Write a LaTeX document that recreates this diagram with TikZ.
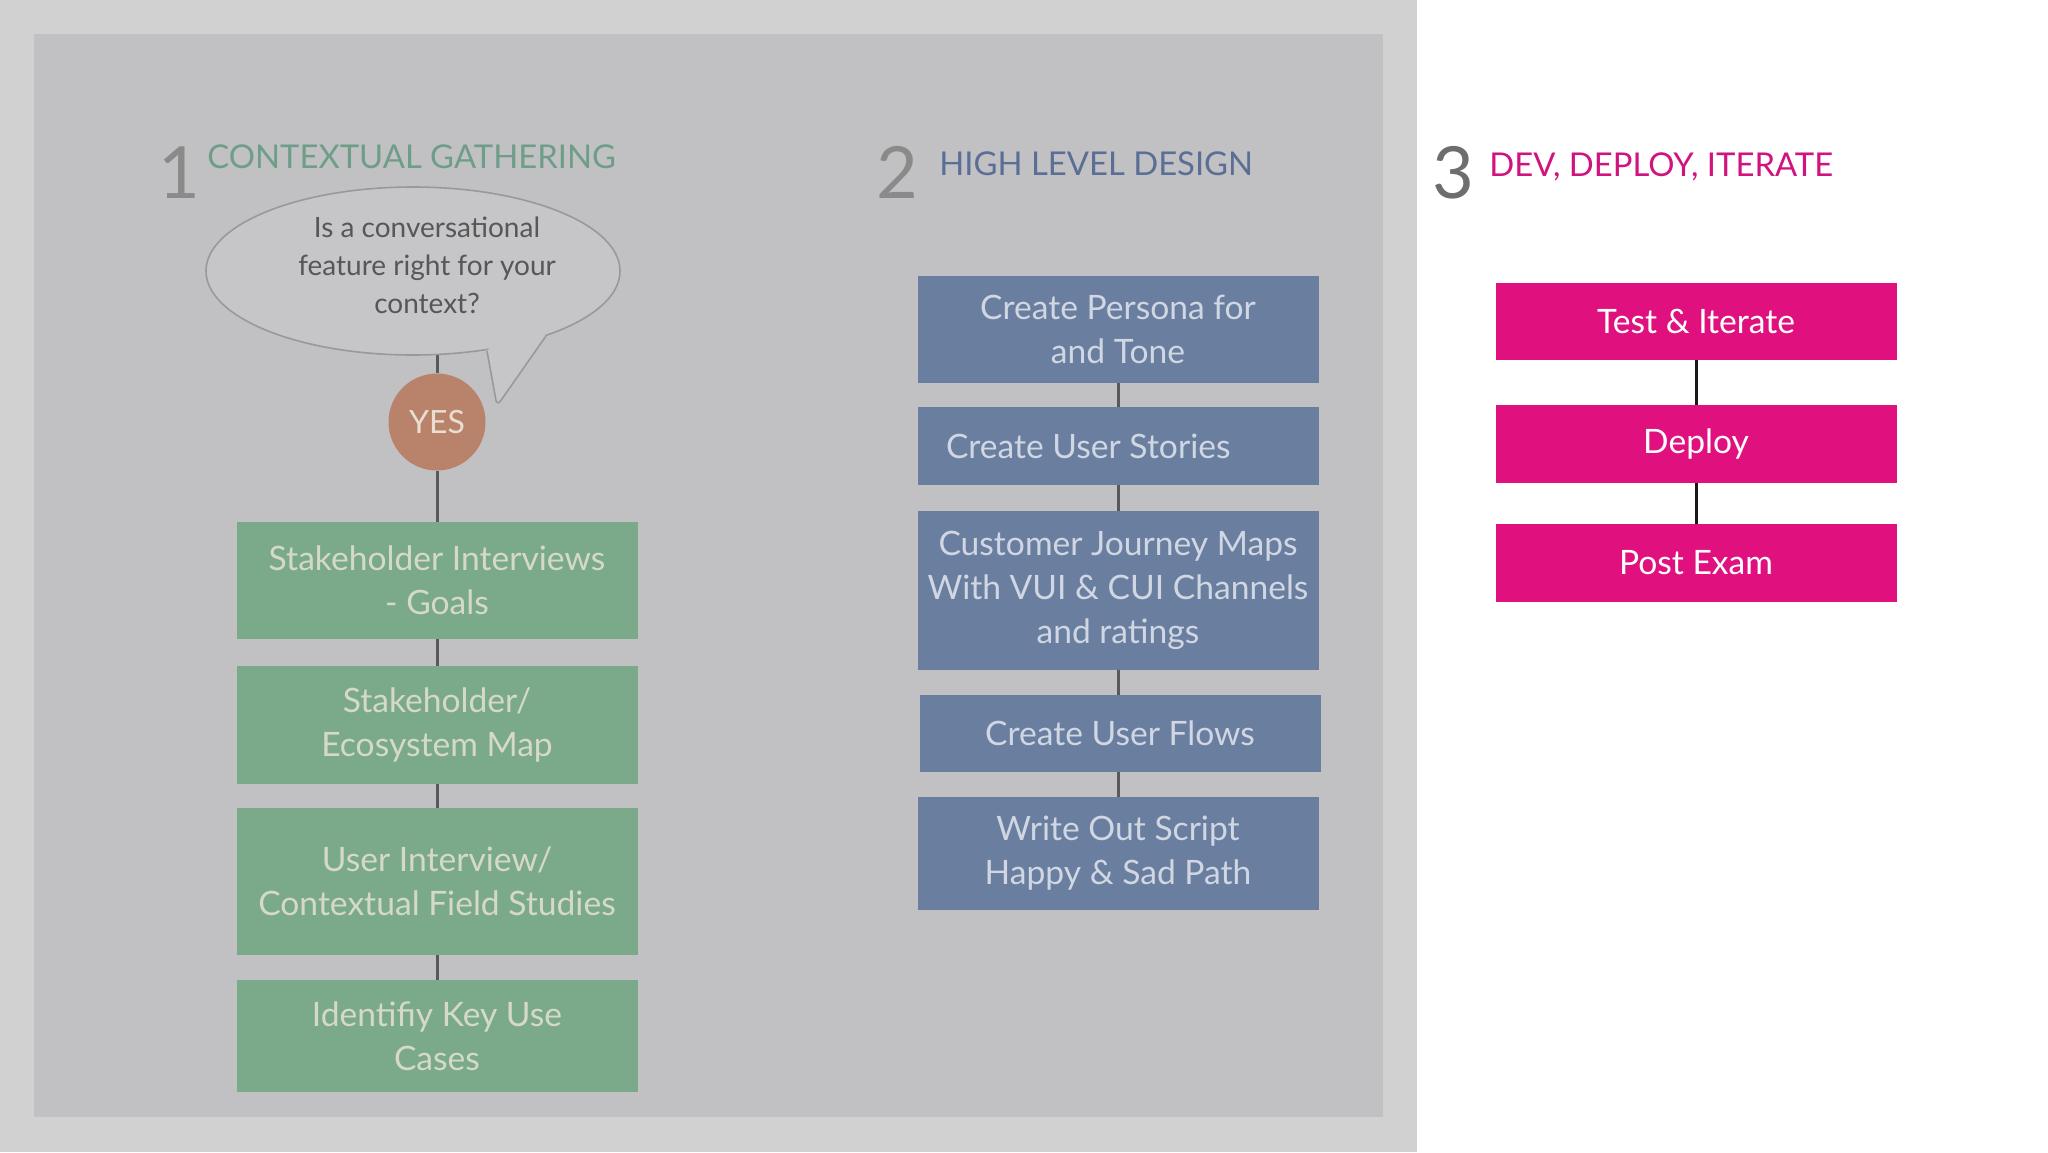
\documentclass[tikz,border=0pt]{standalone}
\usepackage{fontspec}
\setmainfont{Lato}
\usetikzlibrary{shapes.geometric}
\definecolor{outergray}{HTML}{D1D1D1}
\definecolor{panelgray}{HTML}{C1C1C3}
\definecolor{greenfill}{HTML}{7AAA8A}
\definecolor{greentext}{HTML}{D6D9CA}
\definecolor{bluefill}{HTML}{6A7EA0}
\definecolor{bluetext}{HTML}{D0D7E2}
\definecolor{pinkfill}{HTML}{E0107F}
\definecolor{bubblefill}{HTML}{C6C6C8}
\definecolor{bubbleline}{HTML}{999999}
\definecolor{bubbletext}{HTML}{575757}
\definecolor{yesfill}{HTML}{B9826A}
\definecolor{yestext}{HTML}{E8DED2}
\definecolor{conngray}{HTML}{595959}
\definecolor{numgray}{HTML}{8A8A8A}
\definecolor{numdark}{HTML}{6E6E6E}
\definecolor{titlegreen}{HTML}{6E9E88}
\definecolor{titleblue}{HTML}{5B6E96}
\definecolor{titlepink}{HTML}{D0137F}
\begin{document}
\begin{tikzpicture}[x=0.5pt,y=-0.5pt,
  box/.style={rectangle, inner sep=0pt, minimum width=200.5pt, align=center,
    font=\fontsize{16.8}{22}\selectfont},
  greenbox/.style={box, fill=greenfill, text=greentext},
  bluebox/.style={box, fill=bluefill, text=bluetext},
  pinkbox/.style={box, fill=pinkfill, text=white, font=\fontsize{16.8}{22}\selectfont},
  conn/.style={draw=conngray, line width=1.5pt},
  connblack/.style={draw=black!90, line width=1.5pt},
  bignum/.style={anchor=base west, inner sep=0pt, font=\fontsize{36}{36}\selectfont},
  headtitle/.style={anchor=base west, inner sep=0pt, font=\fontsize{16.4}{18}\selectfont}
]
\useasboundingbox (0,0) rectangle (2048,1152);
\fill[outergray] (0,0) rectangle (1417,1152);
\fill[white] (1417,0) rectangle (2048,1152);
\fill[panelgray] (34,34) rectangle (1383,1117);

% titles
\node[bignum, text=numgray] (n1) at (158,198) {1};
\node[headtitle, text=titlegreen] (t1) at (207,168) {CONTEXTUAL GATHERING};
\node[bignum, text=numgray] (n2) at (876,198) {2};
\node[headtitle, text=titleblue] (t2) at (939,175) {HIGH LEVEL DESIGN};
\node[bignum, text=numdark] (n3) at (1432,198) {3};
\node[headtitle, text=titlepink] (t3) at (1489,176) {DEV, DEPLOY, ITERATE};

% column 1
\node[circle, fill=yesfill, text=yestext, minimum size=48.5pt, inner sep=0pt,
  font=\fontsize{16}{18}\selectfont] (yes) at (437,422) {YES};
\coordinate (bubc) at (413,271);
\draw[conn] (yes.north) -- (yes.north |- bubc);
\node[ellipse, fill=bubblefill, draw=bubbleline, line width=0.8pt,
  minimum width=207pt, minimum height=84pt, inner sep=0pt] (bubble) at (bubc) {};
\coordinate (tailA) at (487,351);
\coordinate (tailTip) at (497,406);
\coordinate (tailB) at (546,336);
\fill[bubblefill] (tailA) -- (tailTip) -- (tailB) -- (515,318) -- cycle;
\draw[draw=bubbleline, line width=0.8pt, rounded corners=3pt] (tailA) -- (tailTip) -- (tailB);
\node[align=center, text=bubbletext, font=\fontsize{14}{19}\selectfont] (bubtext) at (427,265)
  {Is a conversational\\feature right for your\\context?};

\node[greenbox, minimum height=58.5pt] (g1) at (437,580.5) {Stakeholder Interviews\\- Goals};
\node[greenbox, minimum height=59pt] (g2) at (437,725) {Stakeholder/\\Ecosystem Map};
\node[greenbox, minimum height=73.5pt] (g3) at (437,881.5) {User Interview/\\Contextual Field Studies};
\node[greenbox, minimum height=56pt] (g4) at (437,1036) {Identifiy Key Use\\Cases};
\draw[conn] (yes.south) -- (g1.north);
\draw[conn] (g1.south) -- (g2.north);
\draw[conn] (g2.south) -- (g3.north);
\draw[conn] (g3.south) -- (g4.north);

% column 2
\node[bluebox, minimum height=53.5pt] (b1) at (1118,329.5) {Create Persona for\\and Tone};
\node[bluebox, minimum height=39pt, text width=172pt, align=flush left] (b2) at (1118,446) {Create User Stories};
\node[bluebox, minimum height=79.5pt] (b3) at (1118,590.5) {Customer Journey Maps\\With VUI \& CUI Channels\\and ratings};
\node[bluebox, minimum height=38.5pt] (b4) at (1120,733.5) {Create User Flows};
\node[bluebox, minimum height=56.5pt] (b5) at (1118,853.5) {Write Out Script\\Happy \& Sad Path};
\draw[conn] (b1.south) -- (b2.north);
\draw[conn] (b2.south) -- (b3.north);
\draw[conn] (b3.south) -- (b3.south |- b4.north);
\draw[conn] (b5.north -| b3.south) -- (b3.south |- b4.south);

% column 3
\node[pinkbox, minimum height=38.5pt] (p1) at (1696,321.5) {Test \& Iterate};
\node[pinkbox, minimum height=39pt] (p2) at (1696,444) {Deploy};
\node[pinkbox, minimum height=39pt] (p3) at (1696,563) {Post Exam};
\draw[connblack] (p1.south) -- (p2.north);
\draw[connblack] (p2.south) -- (p3.north);
\end{tikzpicture}
\end{document}
